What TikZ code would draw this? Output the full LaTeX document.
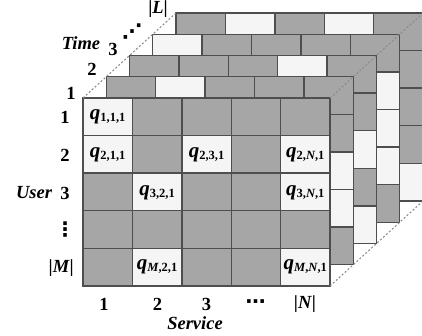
\documentclass[tikz,border=0pt]{standalone}
\usepackage{fontspec}
\setmainfont{Liberation Serif}
\newfontfamily\dotsfont{DejaVu Sans}
\definecolor{cellgray}{RGB}{166,166,166}
\definecolor{cellwhite}{RGB}{245,245,245}
\definecolor{edgecol}{RGB}{78,78,78}
\definecolor{dashcol}{RGB}{140,140,140}
\newcommand{\qq}[1]{{\fontsize{21}{21}\selectfont\bfseries\itshape q}\raisebox{-0.3ex}{\fontsize{12.5}{12.5}\selectfont\bfseries #1}}
\begin{document}
\begin{tikzpicture}[x=1pt,y=-1pt,
  gridline/.style={draw=edgecol,line width=1.4pt,line cap=rect},
  lbl/.style={font=\fontsize{18.5}{18.5}\selectfont\bfseries,inner sep=0pt},
  ilbl/.style={font=\fontsize{18.5}{18.5}\selectfont\bfseries\itshape,inner sep=0pt},
  dlbl/.style={font=\fontsize{20}{20}\selectfont\dotsfont\bfseries,inner sep=0pt},
  cell/.style={inner sep=0pt},
  guide/.style={draw=dashcol,line width=1.1pt,dash pattern=on 2pt off 2pt}]
\useasboundingbox (0,0) rectangle (422,336);
\def\cw{49.4}
\def\ch{37.6}
\foreach \l/\wl in {4/{1/2,1/4,5/5},3/{1/1,2/5,3/5,4/5},2/{1/4,3/5,5/5},1/{1/2,3/5,4/5},0/{1/1,2/1,2/3,2/5,3/2,3/5,5/2,5/5}}{
  \begin{scope}[shift={(83+\l*23.25,98-\l*21.25)}]
    \fill[cellgray] (0,0) rectangle (5*\cw,5*\ch);
    \foreach \r/\c in \wl {
      \fill[cellwhite] ({(\c-1)*\cw},{(\r-1)*\ch}) rectangle ++(\cw,\ch);
    }
    \foreach \i in {0,...,5}{
      \draw[gridline] ({\i*\cw},0) -- ({\i*\cw},5*\ch);
      \draw[gridline] (0,{\i*\ch}) -- (5*\cw,{\i*\ch});
    }
  \end{scope}
}
% corner coordinates for the guide lines
\coordinate (ftl) at (83,98);
\coordinate (ftr) at (330,98);
\coordinate (fbr) at (330,286);
\coordinate (btl) at (176,13);
\coordinate (btr) at (423,13);
\coordinate (bbr) at (423,201);
\draw[guide] (ftl) -- (btl);
\draw[guide] (ftr) -- (btr);
\draw[guide] (fbr) -- (bbr);
% cell texts (front layer)
\node[cell] (q111) at (107.7,117) {\qq{1,1,1}};
\node[cell] (q211) at (107.7,155) {\qq{2,1,1}};
\node[cell] (q231) at (206.5,155) {\qq{2,3,1}};
\node[cell] (q2n1) at (305.3,155) {\qq{2,\textit{N},1}};
\node[cell] (q321) at (157.1,193) {\qq{3,2,1}};
\node[cell] (q3n1) at (305.3,193) {\qq{3,\textit{N},1}};
\node[cell] (qm21) at (157.1,267) {\qq{\textit{M},2,1}};
\node[cell] (qmn1) at (305.3,267) {\qq{\textit{M},\textit{N},1}};
% row labels
\node[lbl] (r1) at (65,117) {1};
\node[lbl] (r2) at (65,155) {2};
\node[lbl] (r3) at (65,193) {3};
\node[ilbl] (user) at (34,193) {User};
\node[dlbl] (rdots) at (65,230) {⋮};
\node[lbl,anchor=east] (rM) at (74,268) {|\textit{M}|};
% column labels
\node[lbl] (c1) at (104,304) {1};
\node[lbl] (c2) at (157.5,304) {2};
\node[lbl] (c3) at (206.5,304) {3};
\node[dlbl] (cdots) at (255.5,304) {⋯};
\node[lbl] (cN) at (305,304) {|\textit{N}|};
\node[ilbl] (service) at (195,323) {Service};
% time labels
\node[lbl] (t1) at (71,93) {1};
\node[lbl] (t2) at (92,69) {2};
\node[lbl] (t3) at (113,49) {3};
\node[dlbl] (tdots) at (132,32) {⋰};
\node[lbl] (tL) at (158,9) {|\textit{L}|};
\node[ilbl] (time) at (81,43) {Time};
\end{tikzpicture}
\end{document}
